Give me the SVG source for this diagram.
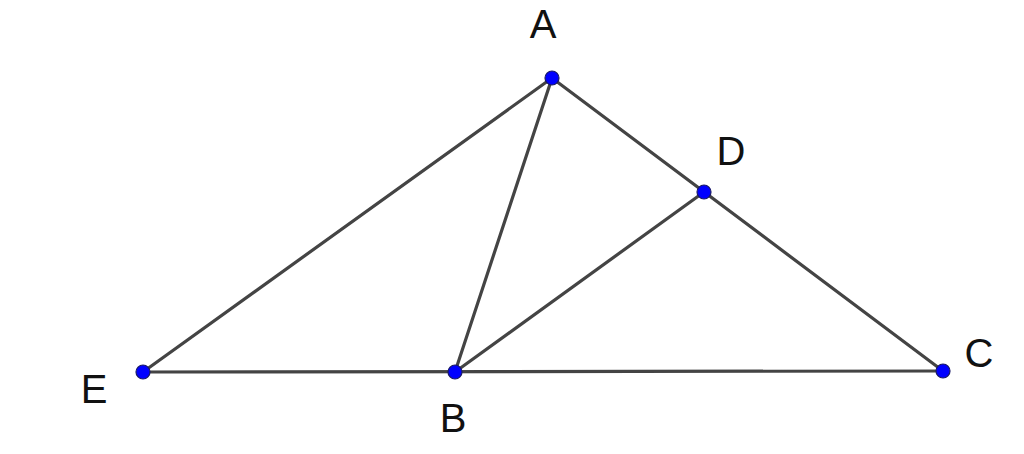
<svg xmlns="http://www.w3.org/2000/svg" width="1024" height="454" viewBox="0 0 1024 454">
<style>
.seg{stroke:#444444;stroke-width:3.2;stroke-linecap:round;fill:none}
.pt{fill:#0000ff;stroke:#1a1a66;stroke-width:1.2}
.lbl{font-family:"Liberation Sans",Arial,sans-serif;font-size:40px;fill:#111111}
</style>
<rect width="1024" height="454" fill="#ffffff"/>
<g id="connectors">
<line class="seg" x1="143" y1="372" x2="552" y2="78"/>
<line class="seg" x1="552" y1="78" x2="943" y2="371"/>
<line class="seg" x1="552" y1="78" x2="455" y2="372"/>
<line class="seg" x1="455" y1="372" x2="704" y2="192"/>
<line class="seg" x1="143" y1="372" x2="943" y2="371"/>
</g>
<g id="A"><circle class="pt" cx="552" cy="78" r="7"/><text class="lbl" x="543" y="38" text-anchor="middle">A</text></g>
<g id="D"><circle class="pt" cx="704" cy="192" r="7"/><text class="lbl" x="731" y="165" text-anchor="middle">D</text></g>
<g id="B"><circle class="pt" cx="455" cy="372" r="7"/><text class="lbl" x="453" y="432" text-anchor="middle">B</text></g>
<g id="E"><circle class="pt" cx="143" cy="372" r="7"/><text class="lbl" x="94" y="403" text-anchor="middle">E</text></g>
<g id="C"><circle class="pt" cx="943" cy="371" r="7"/><text class="lbl" x="979" y="367" text-anchor="middle">C</text></g>
</svg>
